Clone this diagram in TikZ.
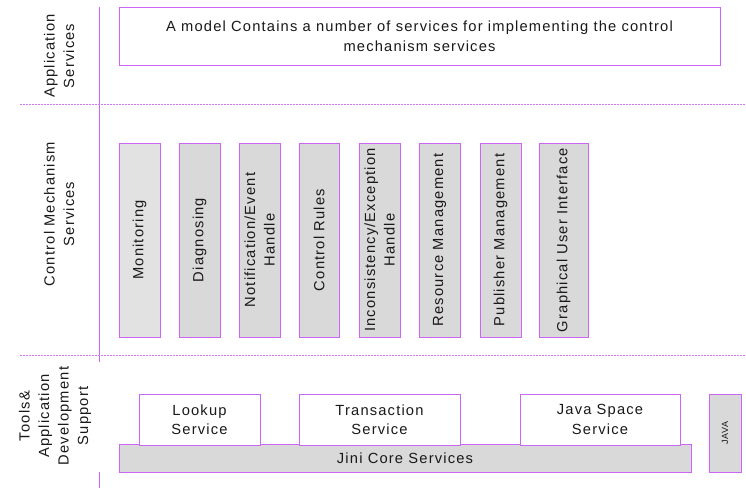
\documentclass[tikz,border=0pt]{standalone}
\usepackage{fontspec}
\setmainfont{Liberation Sans}[LetterSpace=8]
\definecolor{edge}{RGB}{204,102,245}
\definecolor{sep}{RGB}{210,120,245}
\definecolor{boxfill}{RGB}{217,217,217}
\definecolor{boxfilllight}{RGB}{226,226,226}
\begin{document}
\begin{tikzpicture}[x=1pt,y=-1pt,
  every node/.style={inner sep=0pt,outer sep=0pt,font=\fontsize{14.7}{19.5}\selectfont,text=black!90},
  whitebox/.style={draw=edge,line width=1pt,fill=white,align=center},
  greybox/.style={draw=edge,line width=1pt,fill=boxfill,align=center},
  vbox/.style={greybox,rotate=90,minimum width=194pt},
  sidelabel/.style={rotate=90,align=center},
  sepline/.style={draw=sep,line width=0.8pt,dash pattern=on 2pt off 1pt}]
\useasboundingbox (0,0) rectangle (746,488);
% separators
\draw[draw=edge,line width=0.9pt] (99,7) -- (99,362);
\draw[draw=edge,line width=0.9pt] (99,472) -- (99,488);
\draw[sepline] (20,104) -- (746,104);
\draw[sepline] (20,355) -- (746,355);
% side labels
\node[sidelabel] (lapp) at (59,56) {Application\\Services};
\node[sidelabel] (lcms) at (59,214) {Control Mechanism\\Services};
\node[sidelabel] (ltools) at (55,416) {Tools\&\\Application\\Development\\Support};
% application services
\node[whitebox,minimum width=601pt,minimum height=58pt] (app) at (419.5,36) {A model Contains a number of services for implementing the control\\mechanism services};
% control mechanism services
\node[vbox,fill=boxfilllight,minimum height=41pt] (mon) at (139.5,240) {Monitoring};
\node[vbox,minimum height=41pt] (diag) at (199.5,240) {Diagnosing};
\node[vbox,minimum height=41pt] (notif) at (259.5,240) {Notification/Event\\Handle};
\node[vbox,minimum height=40pt] (rules) at (319,240) {Control Rules};
\node[vbox,minimum height=41pt] (incons) at (379.5,240) {Inconsistency/Exception\\Handle};
\node[vbox,minimum height=41pt] (res) at (439.5,240) {Resource Management};
\node[vbox,minimum height=41pt] (pub) at (500.5,240) {Publisher Management};
\node[vbox,minimum height=49pt] (gui) at (563.5,240) {Graphical User Interface};
% tools
\node[greybox,minimum width=572pt,minimum height=28pt] (jini) at (405,458) {Jini Core Services};
\node[whitebox,minimum width=121pt,minimum height=51pt] (lookup) at (199.5,419.5) {Lookup\\Service};
\node[whitebox,minimum width=161pt,minimum height=51pt] (trans) at (379.5,419.5) {Transaction\\Service};
\node[whitebox,minimum width=160pt,minimum height=51pt] (space) at (600,419.5) {Java Space\\Service};
\node[greybox,rotate=90,minimum width=78pt,minimum height=32pt,font=\fontsize{9}{10}\selectfont] (java) at (725,433) {JAVA};
\end{tikzpicture}
\end{document}
